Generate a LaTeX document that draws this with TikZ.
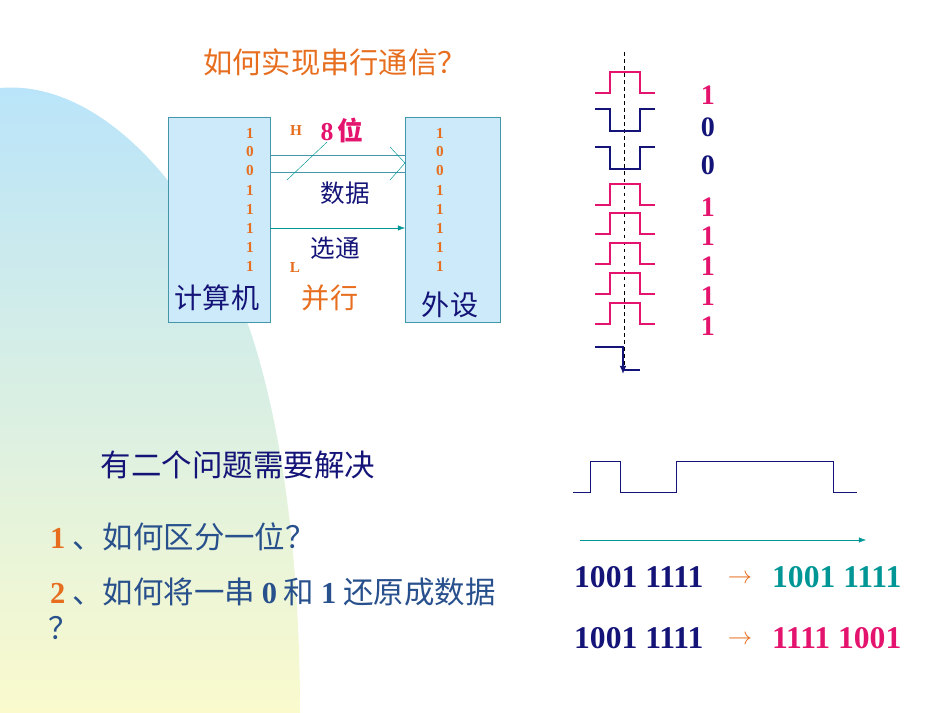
\documentclass[tikz,border=0pt]{standalone}
\usepackage{fontspec}
\setmainfont{Liberation Serif}
\newfontfamily\cjk{Noto Sans CJK SC}
\usetikzlibrary{arrows.meta}
\definecolor{boxfill}{RGB}{204,234,250}
\definecolor{boxline}{RGB}{70,150,170}
\definecolor{orng}{RGB}{230,110,30}
\definecolor{pinkred}{RGB}{228,20,110}
\definecolor{navy}{RGB}{20,20,120}
\definecolor{tealc}{RGB}{0,150,150}
\definecolor{slate}{RGB}{40,80,140}

\begin{document}
\begin{tikzpicture}[x=0.03cm,y=-0.03cm,
    box/.style={draw=boxline, fill=boxfill},
    bit/.style={font=\bfseries\fontsize{13}{13}\selectfont, text=orng},
    big/.style={font=\bfseries\fontsize{27}{27}\selectfont},
    zh/.style={font=\cjk\fontsize{24}{24}\selectfont},
    hi/.style={pinkred, line width=1.2pt},
    lo/.style={navy, line width=1.2pt}]
    \useasboundingbox (0,0) rectangle (950,713);
    % background
    \shade[top color={rgb,255:red,185;green,228;blue,250}, bottom color={rgb,255:red,250;green,250;blue,205}]
        (0,88) .. controls (90,80) and (190,170) .. (250,330)
        .. controls (290,450) and (300,600) .. (300,713) -- (0,713) -- cycle;

    \node[zh, text=orng, font=\cjk\fontsize{25}{25}\selectfont] (title) at (335,62) {如何实现串行通信？};

    % parallel
    \draw[box] (168,117) rectangle (270,322);
    \draw[box] (405,117) rectangle (500,322);
    \foreach \b [count=\i] in {1,0,0,1,1,1,1,1} {
        \node[bit] (l\i) at (250,114+19*\i) {\b};
        \node[bit] (r\i) at (440,114+19*\i) {\b};
    }
    \coordinate (d1a) at (270,155); \coordinate (d1b) at (405,155);
    \coordinate (d2a) at (270,172); \coordinate (d2b) at (405,172);
    \draw[boxline] (d1a) -- (d1b);
    \draw[boxline] (d2a) -- (d2b);
    \draw[tealc] (390,147) -- (405,163) -- (390,180);
    \draw[tealc] (287,180) -- (327,142);
    \coordinate (s1) at (270,228); \coordinate (s2) at (405,228);
    \draw[tealc, -{Latex[length=6pt]}] (s1) -- (s2);
    \node[bit] (H) at (296,131) {H};
    \node[bit] (L) at (295,268) {L};
    \node[zh, text=pinkred, font=\cjk\fontsize{22}{22}\selectfont] (wid) at (342,130) {\bfseries\rmfamily 8\,{\cjk 位}};
    \node[zh, text=navy, font=\cjk\fontsize{21}{21}\selectfont] (data) at (345,193) {数据};
    \node[zh, text=navy, font=\cjk\fontsize{21}{21}\selectfont] (strobe) at (335,248) {选通};
    \node[zh, text=orng] (par) at (330,298) {并行};
    \node[zh, text=navy] (pc) at (217,298) {计算机};
    \node[zh, text=navy] (dev) at (450,305) {外设};

    % serial
    \draw[dashed, thin] (624,52) -- (624,370);
    \foreach \y/\b [count=\i] in {72/1,109/0,147/0,184/1,213/1,243/1,273/1,303/1} {
        \ifnum\b=1
            \draw[hi] (595,\y+21) -- (610,\y+21) -- (610,\y) -- (640,\y) -- (640,\y+21) -- (655,\y+21);
            \node[big, text=pinkred, font=\bfseries\fontsize{24}{24}\selectfont] (s\i) at (708,\y+23) {1};
        \else
            \draw[lo] (595,\y) -- (610,\y) -- (610,\y+22) -- (640,\y+22) -- (640,\y) -- (655,\y);
            \node[big, text=navy, font=\bfseries\fontsize{24}{24}\selectfont] (s\i) at (708,\y+18) {0};
        \fi
    }
    \draw[lo] (595,347) -- (623,347) -- (623,370) -- (640,370);
    \draw[navy, line width=1.2pt, -{Latex[length=7pt,width=6pt]}] (623,350) -- (623,374);

    % questions
    \node[zh, text=navy, font=\cjk\fontsize{26}{26}\selectfont] (q) at (238,465) {有二个问题需要解决};
    \node[anchor=west, zh, text=slate, font=\cjk\fontsize{26}{26}\selectfont] (q1) at (46,537) {{\rmfamily\bfseries\color{orng}1} 、如何区分一位？};
    \node[anchor=west, zh, text=slate, font=\cjk\fontsize{26}{26}\selectfont] (q2) at (46,592) {{\rmfamily\bfseries\color{orng}2} 、如何将一串 {\rmfamily\bfseries 0} 和 {\rmfamily\bfseries 1} 还原成数据};
    \node[anchor=west, zh, text=slate, font=\cjk\fontsize{26}{26}\selectfont] (q3) at (44,628) {？};

    \draw[navy, thin] (573,492) -- (590,492) -- (590,461) -- (620,461) -- (620,492) -- (676,492) -- (676,461) -- (833,461) -- (833,492) -- (857,492);
    \coordinate (t1) at (580,540); \coordinate (t2) at (866,540);
    \draw[tealc, -{Latex[length=6pt]}] (t1) -- (t2);

    \node[big, text=navy, anchor=west] (a1) at (570,577) {1001 1111};
    \node[text=orng, font=\fontsize{20}{20}\selectfont] (ar1) at (740,579) {$\rightarrow$};
    \node[big, text=tealc, anchor=west] (b1) at (768,577) {1001 1111};
    \node[big, text=navy, anchor=west] (a2) at (570,638) {1001 1111};
    \node[text=orng, font=\fontsize{20}{20}\selectfont] (ar2) at (740,640) {$\rightarrow$};
    \node[big, text=pinkred, anchor=west] (b2) at (768,638) {1111 1001};
\end{tikzpicture}
\end{document}
